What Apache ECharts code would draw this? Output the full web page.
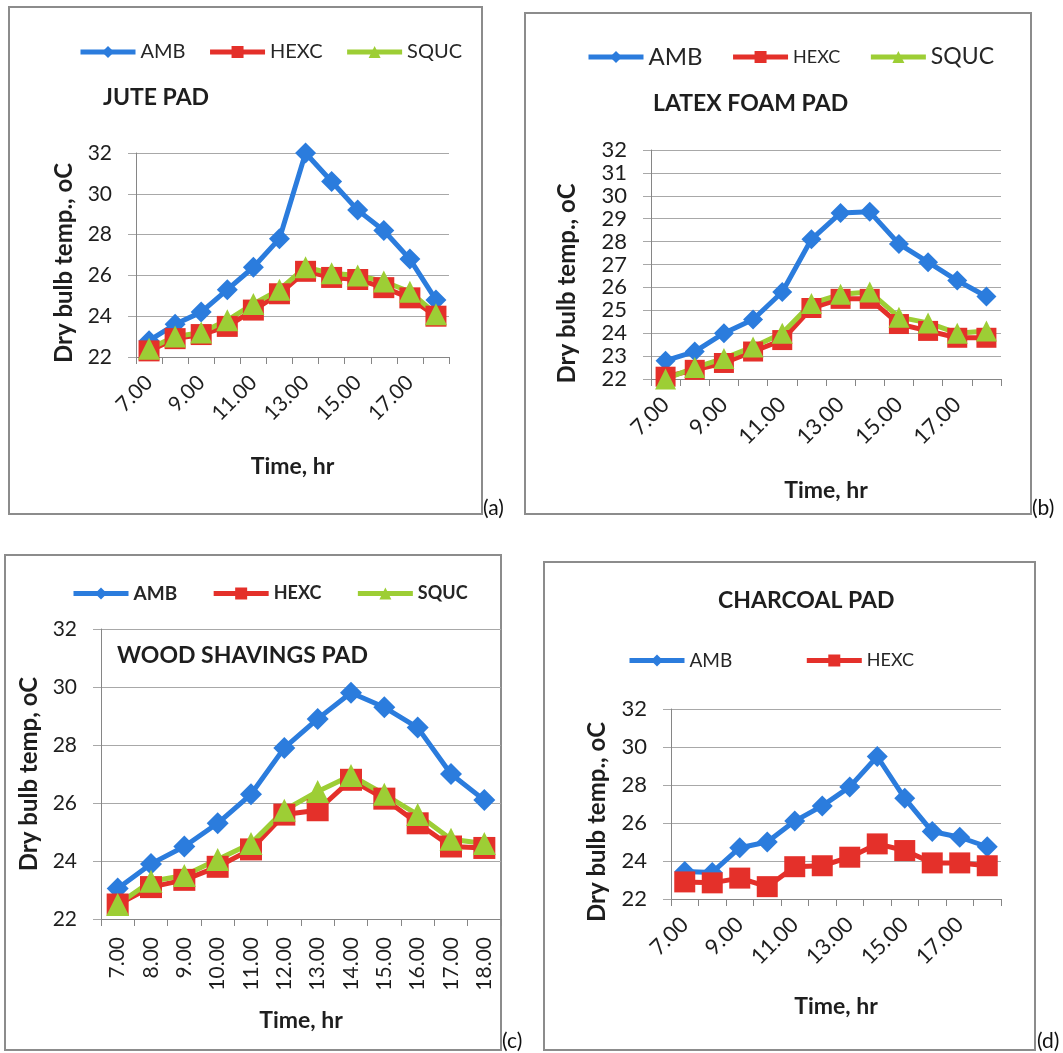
<!DOCTYPE html>
<html>
<head>
<meta charset="utf-8">
<script src="https://cdn.jsdelivr.net/npm/echarts@6/dist/echarts.min.js"></script>
<style>
  html, body { margin: 0; padding: 0; background: #ffffff; }
  #chart { width: 1063px; height: 1053px; }
</style>
</head>
<body>
<div id="chart"></div>
<script>
// Hour of day (categories shared by all four panels)
const hours = ['7.00', '8.00', '9.00', '10.00', '11.00', '12.00', '13.00', '14.00', '15.00', '16.00', '17.00', '18.00'];
const yTicks = [22, 32];

// (a) Jute pad, dry bulb temperature in oC
const juteAmb  = [22.8, 23.6, 24.2, 25.3, 26.4, 27.8, 32.0, 30.6, 29.2, 28.2, 26.8, 24.8];
const juteHexc = [22.3, 22.9, 23.1, 23.5, 24.3, 25.1, 26.2, 25.9, 25.8, 25.4, 24.9, 24.0];
const juteSquc = [22.4, 23.0, 23.2, 23.8, 24.6, 25.3, 26.4, 26.1, 26.0, 25.7, 25.2, 24.1];

// (b) Latex foam pad
const latexAmb  = [22.8, 23.2, 24.0, 24.6, 25.8, 28.1, 29.25, 29.3, 27.9, 27.1, 26.3, 25.6];
const latexHexc = [22.1, 22.4, 22.7, 23.2, 23.7, 25.1, 25.5, 25.5, 24.4, 24.1, 23.8, 23.8];
const latexSquc = [22.0, 22.5, 22.9, 23.4, 24.0, 25.3, 25.7, 25.8, 24.7, 24.45, 24.0, 24.1];

// (c) Wood shavings pad
const woodAmb  = [23.05, 23.9, 24.5, 25.3, 26.3, 27.9, 28.9, 29.8, 29.3, 28.6, 27.0, 26.1];
const woodHexc = [22.5, 23.1, 23.35, 23.8, 24.4, 25.6, 25.75, 26.8, 26.15, 25.3, 24.5, 24.45];
const woodSquc = [22.5, 23.3, 23.5, 24.05, 24.6, 25.75, 26.4, 26.95, 26.3, 25.6, 24.75, 24.6];

// (d) Charcoal pad
const charcoalAmb  = [23.45, 23.4, 24.7, 25.0, 26.1, 26.9, 27.9, 29.5, 27.3, 25.55, 25.25, 24.75];
const charcoalHexc = [22.9, 22.85, 23.1, 22.65, 23.7, 23.75, 24.2, 24.9, 24.55, 23.9, 23.9, 23.75];

const FONT = 'Lato';
const INK = '#1e1e1e';
const AXIS_GRAY = '#868686';
const GRID_GRAY = '#a8a8a8';
const COLORS = { AMB: '#2b7cdd', HEXC: '#e4302a', SQUC: '#9dce35' };
const SYMBOLS = { AMB: 'diamond', HEXC: 'rect', SQUC: 'triangle' };

// Panel layout: plot rectangle, fonts and label placement.
// yNameShift moves the vertical axis title down along the axis.
const panels = [
  { grid: { left: 136, top: 153, width: 313, height: 204 },
    interval: 2, yName: 'Dry bulb temp., oC', yNameGap: 60, yNameShift: 8, xNameGap: 98,
    rotate: 45, labelInterval: 1, labelMargin: 22, tickFont: 21,
    series: [['AMB', juteAmb], ['HEXC', juteHexc], ['SQUC', juteSquc]], symbolSize: 21 },
  { grid: { left: 651, top: 150, width: 350, height: 229 },
    interval: 1, yName: 'Dry bulb temp., oC', yNameGap: 72, yNameShift: 19, xNameGap: 100,
    rotate: 45, labelInterval: 1, labelMargin: 22, tickFont: 22,
    series: [['AMB', latexAmb], ['HEXC', latexHexc], ['SQUC', latexSquc]], symbolSize: 20 },
  { grid: { left: 101, top: 629, width: 400, height: 290 },
    interval: 2, yName: 'Dry bulb temp, oC', yNameGap: 60, yNameShift: 0, xNameGap: 90,
    rotate: 90, labelInterval: 0, labelMargin: 18, tickFont: 21,
    series: [['AMB', woodAmb], ['HEXC', woodHexc], ['SQUC', woodSquc]], symbolSize: 22 },
  { grid: { left: 671, top: 709, width: 330, height: 190 },
    interval: 2, yName: 'Dry bulb temp., oC', yNameGap: 62, yNameShift: 18, xNameGap: 96,
    rotate: 45, labelInterval: 1, labelMargin: 22, tickFont: 22,
    series: [['AMB', charcoalAmb], ['HEXC', charcoalHexc]], symbolSize: 21 }
];

const grid = [], xAxis = [], yAxis = [], series = [];
panels.forEach((p, i) => {
  grid.push(Object.assign({ containLabel: false }, p.grid));
  xAxis.push({
    type: 'category', gridIndex: i, data: hours, boundaryGap: true,
    name: 'Time, hr', nameLocation: 'middle', nameGap: p.xNameGap,
    nameTextStyle: { fontFamily: FONT, fontWeight: 'bold', fontSize: 23, color: INK },
    axisLine: { lineStyle: { color: AXIS_GRAY, width: 1 } },
    axisTick: { show: true, interval: 0, length: 7, inside: false, lineStyle: { color: AXIS_GRAY } },
    axisLabel: { interval: p.labelInterval, rotate: p.rotate, margin: p.labelMargin,
      fontFamily: FONT, fontSize: p.tickFont, color: INK },
    splitLine: { show: false }
  });
  yAxis.push({
    type: 'value', gridIndex: i, min: yTicks[0], max: yTicks[1], interval: p.interval,
    name: p.yName, nameLocation: 'middle', nameGap: p.yNameGap, nameRotate: 90,
    nameTextStyle: { fontFamily: FONT, fontWeight: 'bold', fontSize: 24, color: INK,
      padding: [0, p.yNameShift * 2, 0, 0] },
    axisLine: { show: true, lineStyle: { color: AXIS_GRAY, width: 1 } },
    axisTick: { show: true, length: 8, lineStyle: { color: GRID_GRAY } },
    axisLabel: { margin: 24, fontFamily: FONT, fontSize: p.tickFont, color: INK },
    splitLine: { show: true, lineStyle: { color: GRID_GRAY, width: 1 } }
  });
  p.series.forEach(([name, values]) => {
    series.push({
      type: 'line', name: name, data: values, xAxisIndex: i, yAxisIndex: i,
      symbol: SYMBOLS[name], symbolSize: name === 'SQUC' ? p.symbolSize + 1 : p.symbolSize,
      showAllSymbol: true, animation: false,
      itemStyle: { color: COLORS[name] },
      lineStyle: { color: COLORS[name], width: 5 },
      emphasis: { disabled: true }
    });
  });
});

const titleStyle = { fontFamily: FONT, fontWeight: 'bold', fontSize: 23, color: INK };
const title = [
  { text: 'JUTE PAD', left: 103, top: 86, padding: 0, textStyle: titleStyle },
  { text: 'LATEX FOAM PAD', left: 653, top: 92, padding: 0, textStyle: titleStyle },
  { text: 'WOOD SHAVINGS PAD', left: 117, top: 644, padding: 0, textStyle: titleStyle },
  { text: 'CHARCOAL PAD', left: 718, top: 589, padding: 0, textStyle: titleStyle }
];

function legendData(names, sizes, weight) {
  return names.map((n, k) => ({ name: n, textStyle: { fontSize: sizes[k], fontWeight: weight || 'normal' } }));
}
const legendBase = { orient: 'horizontal', padding: 0, itemWidth: 55, itemHeight: 15,
  lineStyle: { width: 5 },
  textStyle: { fontFamily: FONT, color: '#262626', fontSize: 19 }, selectedMode: false };
const legend = [
  Object.assign({}, legendBase, { left: 78, top: 42, itemGap: 22,
    data: legendData(['AMB', 'HEXC', 'SQUC'], [20, 20, 20]) }),
  Object.assign({}, legendBase, { left: 586, top: 45, itemGap: 28,
    data: legendData(['AMB', 'HEXC', 'SQUC'], [24, 18, 23]) }),
  Object.assign({}, legendBase, { left: 71, top: 584, itemGap: 34,
    data: legendData(['AMB', 'HEXC', 'SQUC'], [19, 18, 18], 'bold') }),
  Object.assign({}, legendBase, { left: 627, top: 651, itemGap: 72,
    data: legendData(['AMB', 'HEXC'], [19, 18]) })
];

// Panel frames and their letters
const frames = [
  [9, 7, 473, 507], [525, 13, 506, 501], [5, 555, 496, 495], [544, 562, 491, 488]
];
const letters = [['(a)', 483, 508], ['(b)', 1032, 508], ['(c)', 502, 1041], ['(d)', 1037, 1041]];
const graphic = frames.map(f => ({
  type: 'rect', silent: true, z: -1,
  shape: { x: f[0], y: f[1], width: f[2], height: f[3] },
  style: { fill: 'none', stroke: '#8c8c8c', lineWidth: 2 }
})).concat(letters.map(l => ({
  type: 'text', silent: true, x: l[1], y: l[2],
  style: { text: l[0], fill: '#111', font: '21px ' + FONT, textVerticalAlign: 'middle' }
})));

const chart = echarts.init(document.getElementById('chart'), null, { renderer: 'canvas' });
chart.setOption({
  backgroundColor: '#ffffff',
  animation: false,
  title, legend, grid, xAxis, yAxis, series, graphic
});
</script>
</body>
</html>
